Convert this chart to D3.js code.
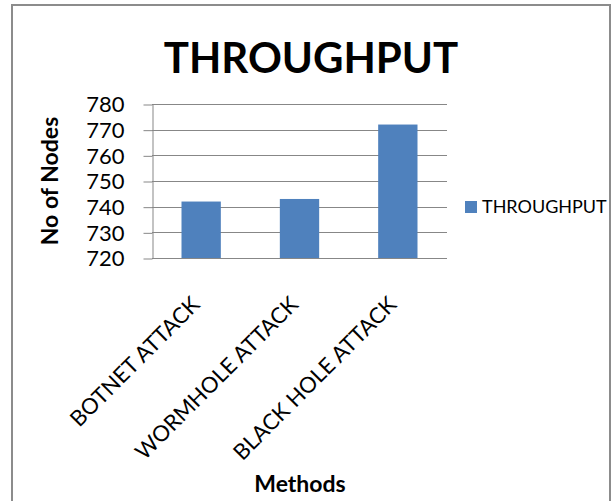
<!DOCTYPE html>
<html>
<head>
<meta charset="utf-8">
<script src="https://cdn.jsdelivr.net/npm/d3@7"></script>
<style>
  html, body { margin: 0; padding: 0; background: #fff; }
  svg { display: block; }
  text { font-family: Lato, "Open Sans", sans-serif; fill: #000; }
</style>
</head>
<body>
<script>
// Throughput by attack method
const categories = ["BOTNET ATTACK", "WORMHOLE ATTACK", "BLACK HOLE ATTACK"];
const throughput = [742, 743, 772];
const yTicks = [720, 730, 740, 750, 760, 770, 780];
const seriesName = "THROUGHPUT";

const W = 611, H = 501;
const plot = { left: 152, right: 447, top: 104, bottom: 258 };

const svg = d3.select("body").append("svg")
  .attr("width", W).attr("height", H);

// chart area frame
svg.append("path")
  .attr("d", `M12,${H} V5 H610 V${H}`)
  .attr("fill", "none")
  .attr("stroke", "#8c8c8c")
  .attr("stroke-width", 2);

const x = d3.scaleBand()
  .domain(categories)
  .range([plot.left, plot.right])
  .paddingInner(0.6)
  .paddingOuter(0.3);

const y = d3.scaleLinear()
  .domain([720, 780])
  .range([plot.bottom, plot.top]);

// horizontal gridlines
svg.append("g")
  .selectAll("line")
  .data(yTicks)
  .join("line")
  .attr("x1", plot.left).attr("x2", plot.right)
  .attr("y1", d => Math.round(y(d)) + 0.5)
  .attr("y2", d => Math.round(y(d)) + 0.5)
  .attr("stroke", "#878787")
  .attr("stroke-width", 1);

// bars
svg.append("g")
  .selectAll("rect")
  .data(categories.map((c, i) => ({ c, v: throughput[i] })))
  .join("rect")
  .attr("x", d => x(d.c))
  .attr("width", x.bandwidth())
  .attr("y", d => y(d.v))
  .attr("height", d => y(720) - y(d.v))
  .attr("fill", "#4F81BD");

// y axis
const yAxis = svg.append("g")
  .attr("transform", `translate(${plot.left + 0.5},0)`)
  .call(d3.axisLeft(y).tickValues(yTicks).tickSize(9).tickPadding(19).tickSizeOuter(0));
yAxis.select(".domain").attr("stroke", "#878787");
yAxis.selectAll(".tick line").attr("stroke", "#878787")
  .attr("transform", "translate(0,0.5)");
yAxis.selectAll(".tick text")
  .style("font-size", "22px")
  .attr("fill", "#000")
  .attr("dy", "0.36em");

// x axis line
svg.append("line")
  .attr("x1", plot.left).attr("x2", plot.right)
  .attr("y1", plot.bottom + 0.5).attr("y2", plot.bottom + 0.5)
  .attr("stroke", "#878787");

// x category labels, rotated
const xAxis = svg.append("g")
  .attr("transform", `translate(0,${plot.bottom})`)
  .call(d3.axisBottom(x).tickSize(0).tickPadding(0));
xAxis.select(".domain").remove();
xAxis.selectAll(".tick text")
  .style("font-size", "22px")
  .attr("text-anchor", "end")
  .attr("fill", "#000")
  .attr("transform", "translate(0,48) rotate(-45)")
  .attr("dy", "0")
  .attr("y", 0);

// title
svg.append("text")
  .attr("x", 311).attr("y", 73)
  .attr("text-anchor", "middle")
  .style("font-size", "42px")
  .style("font-weight", "bold")
  .text("THROUGHPUT");

// y axis title
svg.append("text")
  .attr("transform", `translate(58,181) rotate(-90)`)
  .attr("text-anchor", "middle")
  .style("font-size", "23px")
  .style("font-weight", "bold")
  .text("No of Nodes");

// x axis title
svg.append("text")
  .attr("x", 300).attr("y", 492)
  .attr("text-anchor", "middle")
  .style("font-size", "23px")
  .style("font-weight", "bold")
  .text("Methods");

// legend
const legend = svg.append("g").attr("transform", "translate(465,201)");
legend.append("rect")
  .attr("width", 12).attr("height", 12)
  .attr("fill", "#4F81BD");
legend.append("text")
  .attr("x", 17).attr("y", 12)
  .style("font-size", "18px")
  .text(seriesName);
</script>
</body>
</html>
